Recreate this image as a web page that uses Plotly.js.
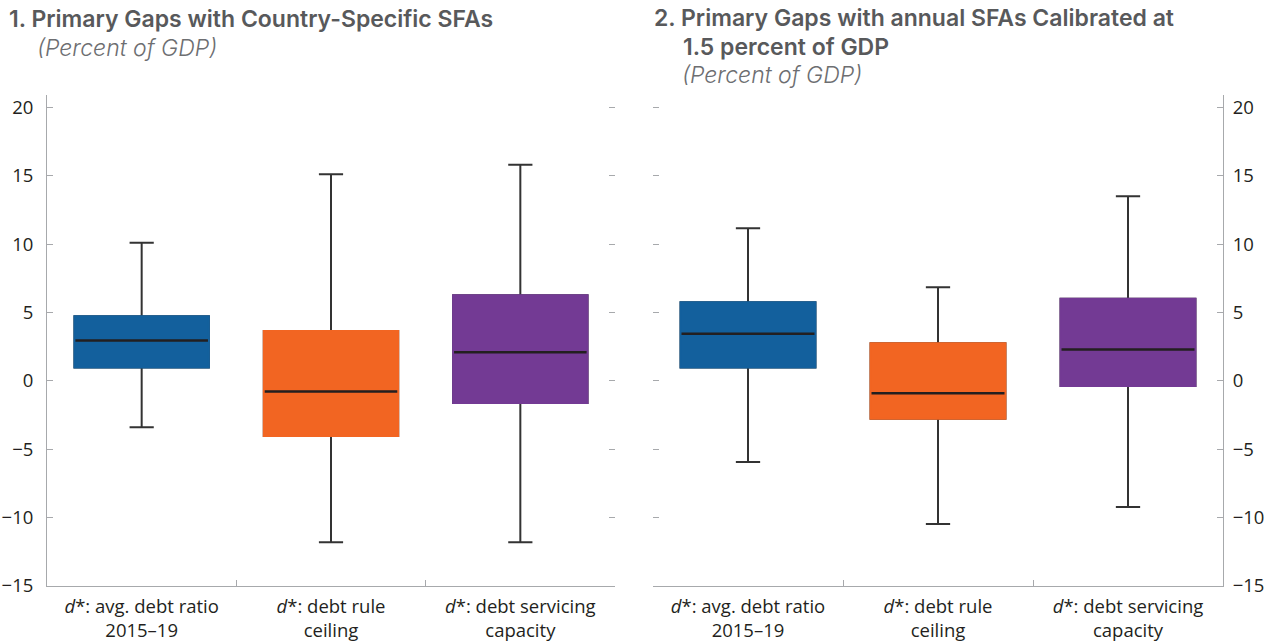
<!DOCTYPE html>
<html><head><meta charset="utf-8">
<script src="https://cdn.plot.ly/plotly-3.0.1.min.js"></script>
<style>body{margin:0;background:#fff}#chart{width:1266px;height:644px}</style>
</head><body><div id="chart"></div>
<script>
// Categories (x tick labels)
const categories = [
  "<i>d</i>*: avg. debt ratio<br>2015–19",
  "<i>d</i>*: debt rule<br>ceiling",
  "<i>d</i>*: debt servicing<br>capacity"
];
const boxColors = ["#13609d", "#f26522", "#733a94"];

// Panel 1: Primary gaps with country-specific SFAs
const p1Upper  = [10.1, 15.1, 15.8];
const p1Q3     = [4.73, 3.64, 6.25];
const p1Median = [2.95, -0.78, 2.1];
const p1Q1     = [0.98, -4.04, -1.62];
const p1Lower  = [-3.4, -11.8, -11.8];

// Panel 2: Primary gaps with annual SFAs calibrated at 1.5 percent of GDP
const p2Upper  = [11.15, 6.85, 13.5];
const p2Q3     = [5.75, 2.75, 6.0];
const p2Median = [3.45, -0.9, 2.3];
const p2Q1     = [0.98, -2.77, -0.38];
const p2Lower  = [-5.94, -10.47, -9.23];

const yTickVals = [-15, -10, -5, 0, 5, 10, 15, 20];

const DARK = "#231f20";
const BOXW = 0.71;
const traces = [];

function addPanel(xa, ya, up, q3, med, q1, lo) {
  categories.forEach((c, i) => {
    // whiskers (dark)
    traces.push({type: "box", x: [c], xaxis: xa, yaxis: ya,
      q1: [q1[i]], median: [med[i]], q3: [q3[i]], lowerfence: [lo[i]], upperfence: [up[i]],
      width: BOXW, whiskerwidth: 0.18, fillcolor: "rgba(0,0,0,0)",
      line: {color: "#333333", width: 2}, hoverinfo: "skip", showlegend: false});
    // coloured box
    traces.push({type: "box", x: [c], xaxis: xa, yaxis: ya,
      q1: [q1[i]], median: [med[i]], q3: [q3[i]], lowerfence: [q1[i]], upperfence: [q3[i]],
      width: BOXW, whiskerwidth: 0, fillcolor: boxColors[i],
      line: {color: boxColors[i], width: 2}, hoverinfo: "skip", showlegend: false});
    // median line
    traces.push({type: "box", x: [c], xaxis: xa, yaxis: ya,
      q1: [med[i]], median: [med[i]], q3: [med[i]], lowerfence: [med[i]], upperfence: [med[i]],
      width: BOXW - 0.01, whiskerwidth: 0, fillcolor: "rgba(0,0,0,0)",
      line: {color: DARK, width: 2.5}, hoverinfo: "skip", showlegend: false});
  });
}
addPanel("x", "y", p1Upper, p1Q3, p1Median, p1Q1, p1Lower);
addPanel("x2", "y2", p2Upper, p2Q3, p2Median, p2Q1, p2Lower);

const FONT = "'Open Sans', Lato, sans-serif";
const TFONT = "Inter, 'Open Sans', sans-serif";
const AXC = "#a7a9ac";
const yRange = [-15, 20.9];
const tickFont = {family: FONT, size: 18.5, color: "#231f20", weight: 400};

const xCommon = {
  type: "category", categoryorder: "array", categoryarray: categories,
  range: [-0.5, 2.5], tickson: "boundaries", ticks: "inside", ticklen: 6,
  tickcolor: AXC, showline: true, linecolor: AXC, linewidth: 1, showgrid: false,
  zeroline: false, tickfont: tickFont, ticklabelstandoff: 4, fixedrange: true
};
const yCommon = {
  range: yRange, tickmode: "array", tickvals: yTickVals, ticks: "inside", ticklen: 6,
  tickcolor: AXC, showgrid: false, zeroline: false, fixedrange: true,
  tickfont: tickFont
};

// pixel helpers for annotations
const L = 47, R = 43, T = 95, B = 58, W = 1266, H = 644;
const pw = W - L - R, ph = H - T - B;
const px = v => (v - L) / pw;
const py = v => (H - B - v) / ph;

const titleFont = {family: TFONT, size: 22, color: "#58595b", weight: 600};
const T1 = "1. Primary Gaps with Country-Specific SFAs";
const T2a = "2. Primary Gaps with annual SFAs Calibrated at";
const T2b = "1.5 percent of GDP";
const SUB = "(Percent of GDP)";
const IND = "&nbsp;&nbsp;&nbsp;&nbsp;&nbsp;";
const IND_SUB = "&nbsp;&nbsp;&nbsp;&nbsp;&#8202;";
const big = s => "<span style='font-size:23px'>" + s + "</span>";
const sub = s => "<span style='font-size:23px;font-style:italic;font-weight:300;fill:#6d6e71'>" + IND_SUB + s + "</span>";

const layout = {
  width: W, height: H,
  margin: {l: L, r: R, t: T, b: B},
  paper_bgcolor: "#ffffff", plot_bgcolor: "#ffffff",
  boxmode: "overlay", showlegend: false,
  xaxis: Object.assign({}, xCommon, {domain: [0, px(615)], anchor: "y"}),
  xaxis2: Object.assign({}, xCommon, {domain: [px(653), 1], anchor: "y2"}),
  yaxis: Object.assign({}, yCommon, {anchor: "x", side: "left", showline: true, linecolor: AXC, linewidth: 1, ticklabelstandoff: 9}),
  yaxis2: Object.assign({}, yCommon, {anchor: "x2", side: "right", showline: true, linecolor: AXC, linewidth: 1, ticklabelstandoff: 5}),
  yaxis3: Object.assign({}, yCommon, {overlaying: "y", anchor: "x", side: "right", showline: false, showticklabels: false}),
  yaxis4: Object.assign({}, yCommon, {overlaying: "y2", anchor: "x2", side: "left", showline: false, showticklabels: false}),
  annotations: [
    {text: big(T1) + "<br>" + sub(SUB), x: px(8), y: py(33)},
    {text: big(T2a) + "<br>" + big(IND + T2b) + "<br>" + sub(SUB), x: px(653), y: py(46.5)}
  ].map(a => Object.assign({xref: "paper", yref: "paper", xanchor: "left", yanchor: "middle",
    align: "left", showarrow: false, font: titleFont, borderpad: 0}, a))
};

// invisible anchor points so the mirrored tick axes are drawn
traces.push({type: "scatter", x: [categories[0]], y: [0], xaxis: "x", yaxis: "y3", mode: "markers", marker: {opacity: 0}, hoverinfo: "skip", showlegend: false});
traces.push({type: "scatter", x: [categories[0]], y: [0], xaxis: "x2", yaxis: "y4", mode: "markers", marker: {opacity: 0}, hoverinfo: "skip", showlegend: false});

Plotly.newPlot("chart", traces, layout, {displayModeBar: false, staticPlot: true});
</script>
</body></html>
